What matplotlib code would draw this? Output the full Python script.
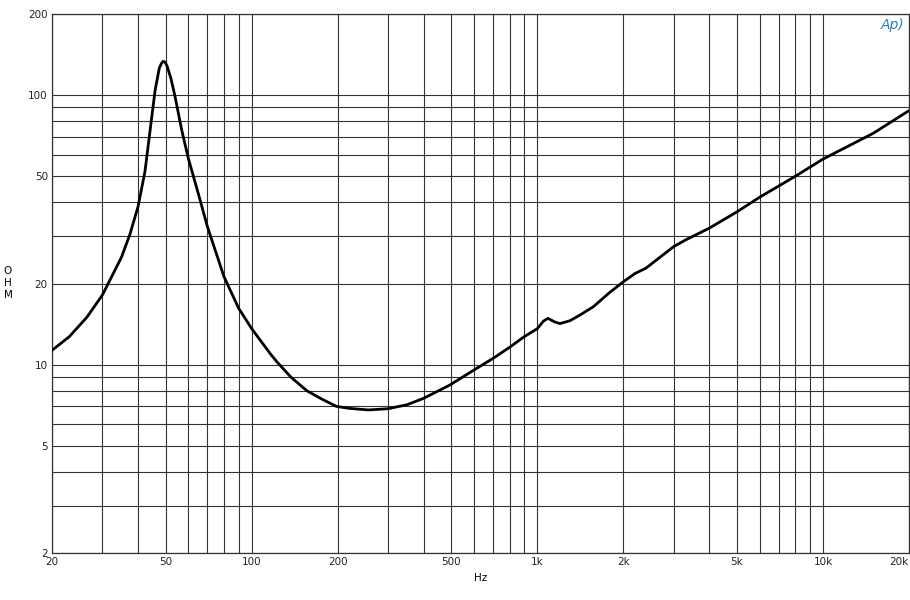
import matplotlib
matplotlib.use("Agg")
import matplotlib.pyplot as plt
from matplotlib.ticker import FixedLocator, NullFormatter, NullLocator

# impedance curve (Hz, ohm)
freq = [20, 23, 26.5, 30, 33.7, 35, 37.5, 40, 42.3, 44.1, 45.9, 47.5, 48.3, 49,
        49.8, 50.6, 52.2, 53.9, 56.9, 60, 65, 70, 80, 90, 100, 116, 122, 137,
        156, 176, 198, 220, 256, 300, 350, 400, 494, 600, 700, 800, 900, 1000,
        1050, 1090, 1150, 1200, 1300, 1414, 1570, 1800, 2000, 2200, 2400, 3000,
        3300, 4000, 5000, 6000, 7000, 8000, 10000, 15000, 20000]
ohm = [11.3, 12.7, 15.0, 18.1, 23.1, 25.0, 30.5, 38.5, 52.0, 74.0, 104.0, 126.0,
       131.0, 133.5, 132.5, 128.0, 115.0, 99.0, 74.2, 58.3, 43.2, 32.5, 21.2,
       16.2, 13.6, 11.0, 10.3, 9.0, 8.0, 7.45, 7.0, 6.88, 6.79, 6.86, 7.1, 7.5,
       8.4, 9.55, 10.55, 11.6, 12.7, 13.6, 14.5, 14.85, 14.4, 14.2, 14.55, 15.3,
       16.4, 18.6, 20.3, 21.8, 22.8, 27.4, 29.0, 32.1, 36.9, 41.8, 46.0, 50.0,
       57.9, 72.2, 87.6]

x_ticks = [20, 50, 100, 200, 500, 1000, 2000, 5000, 10000, 20000]
x_labels = ["20", "50", "100", "200", "500", "1k", "2k", "5k", "10k", "20k"]
y_ticks = [2, 5, 10, 20, 50, 100, 200]
y_labels = ["2", "5", "10", "20", "50", "100", "200"]

x_grid = [m * d for d in (10, 100, 1000, 10000) for m in range(1, 10)]
x_grid = [v for v in x_grid if 20 <= v <= 20000]
y_grid = [m * d for d in (1, 10, 100) for m in range(1, 10)]
y_grid = [v for v in y_grid if 2 <= v <= 200]

fig = plt.figure(figsize=(9.1, 6.0), dpi=100)
ax = fig.add_axes([52 / 910, 47 / 600, 857 / 910, 539 / 600])
ax.set_xscale("log")
ax.set_yscale("log")
ax.set_xlim(20, 20000)
ax.set_ylim(2, 200)

for v in x_grid:
    ax.axvline(v, color="#333333", lw=0.8, zorder=1)
for v in y_grid:
    ax.axhline(v, color="#333333", lw=0.8, zorder=1)

ax.plot(freq, ohm, color="black", lw=2.0, zorder=3,
        solid_joinstyle="round", solid_capstyle="round")

ax.xaxis.set_major_locator(FixedLocator(x_ticks))
ax.set_xticklabels(x_labels)
ax.xaxis.set_minor_locator(NullLocator())
ax.xaxis.set_minor_formatter(NullFormatter())
ax.yaxis.set_major_locator(FixedLocator(y_ticks))
ax.set_yticklabels(y_labels)
ax.yaxis.set_minor_locator(NullLocator())
ax.yaxis.set_minor_formatter(NullFormatter())
ax.tick_params(length=0, labelsize=7.5, pad=3, colors="#222222")
ax.get_xticklabels()[-1].set_horizontalalignment("right")
for s in ax.spines.values():
    s.set_color("#333333")
    s.set_linewidth(0.9)

ax.set_xlabel("Hz", fontsize=7.5, labelpad=4)
fig.text(8 / 910, 1 - 283 / 600, "O\nH\nM", fontsize=7.5, ha="center", va="center",
         linespacing=1.3)
fig.text(893 / 910, 1 - 25 / 600, "Ap)", fontsize=10, color="#2a7fc0",
         style="italic", ha="center", va="center")

fig.savefig("out.png", dpi=100)
